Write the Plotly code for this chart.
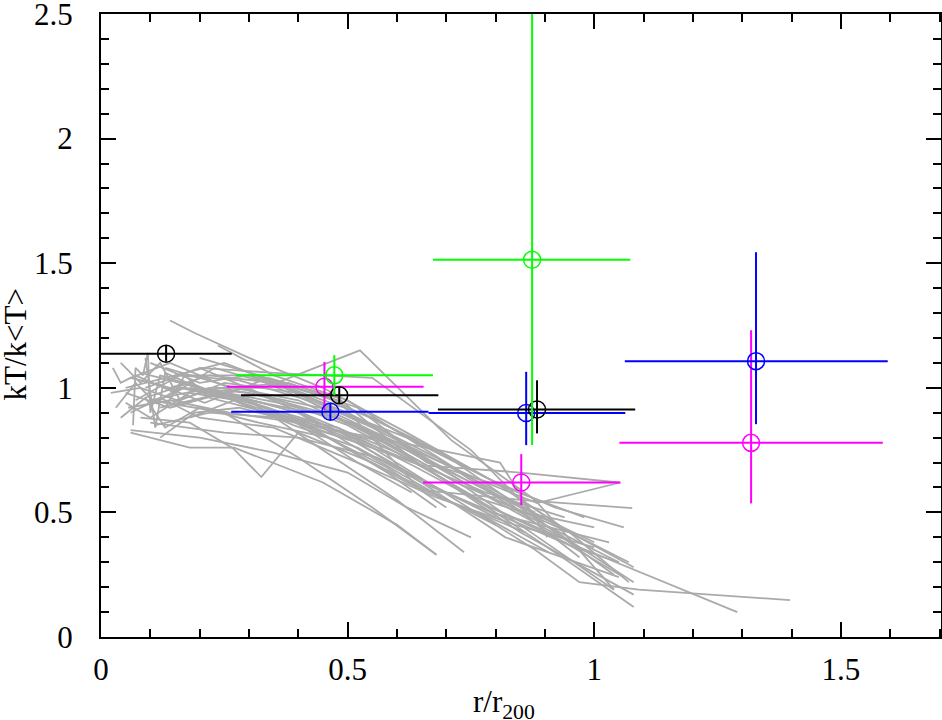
import plotly.graph_objects as go

# ---------------- data ----------------
# Coloured binned measurements: centre, x-bin edges, y-error limits
black_x = [0.132, 0.483, 0.884]
black_y = [1.137, 0.970, 0.913]
black_xlo = [0.0, 0.284, 0.683]
black_xhi = [0.265, 0.684, 1.083]
black_ylo = [1.105, 0.937, 0.817]
black_yhi = [1.170, 1.003, 1.030]

blue_x = [0.465, 0.862, 1.328]
blue_y = [0.904, 0.899, 1.107]
blue_xlo = [0.264, 0.664, 1.062]
blue_xhi = [0.664, 1.063, 1.595]
blue_ylo = [0.870, 0.770, 0.854]
blue_yhi = [0.938, 1.064, 1.544]

green_x = [0.473, 0.874]
green_y = [1.050, 1.514]
green_xlo = [0.274, 0.673]
green_xhi = [0.673, 1.073]
green_ylo = [0.970, 0.770]
green_yhi = [1.131, 2.700]

magenta_x = [0.453, 0.852, 1.318]
magenta_y = [1.004, 0.620, 0.779]
magenta_xlo = [0.255, 0.653, 1.051]
magenta_xhi = [0.654, 1.053, 1.585]
magenta_ylo = [0.910, 0.529, 0.536]
magenta_yhi = [1.104, 0.734, 1.231]

# Grey individual-cluster profiles (x = r/r200, y = kT/<kT>)
profile_x = [
    [0.14, 0.19, 0.30, 0.45, 0.62, 0.80, 0.95, 1.07],
    [0.024, 0.04, 0.06, 0.10, 0.14, 0.22, 0.35, 0.50, 0.68, 0.85, 1.05],
    [0.10, 0.22, 0.33, 0.525, 0.71, 0.88, 1.04],
    [0.08, 0.18, 0.268, 0.325, 0.40, 0.55, 0.70, 0.86],
    [0.06, 0.18, 0.27, 0.45, 0.60, 0.68],
    [0.04, 0.08, 0.12, 0.16, 0.25, 0.40, 0.58, 0.75, 0.97, 1.29],
    [0.05, 0.15, 0.30, 0.48, 0.647, 0.85, 1.077],
    [0.12, 0.25, 0.40, 0.55, 0.72, 0.88, 0.97, 1.09, 1.397],
    [0.07, 0.16, 0.28, 0.42, 0.60, 0.80, 0.95, 1.08],
    [0.09, 0.20, 0.32, 0.50, 0.68, 0.85, 1.08],
    [0.15, 0.25, 0.38, 0.55, 0.72, 0.90, 1.08],
    [0.11, 0.22, 0.36, 0.52, 0.65, 0.82, 1.05],
    [0.13, 0.27, 0.40, 0.56, 0.74, 0.90, 1.04],
    [0.05, 0.14, 0.25, 0.40, 0.55, 0.70, 0.80],
    [0.10, 0.20, 0.30, 0.45, 0.60, 0.75, 0.88],
    [0.16, 0.28, 0.42, 0.58, 0.68],
    [0.08, 0.17, 0.30, 0.48, 0.62, 0.80, 0.95],
    [0.06, 0.12, 0.20, 0.35, 0.52, 0.68, 0.84, 1.00],
    [0.18, 0.30, 0.45, 0.60, 0.78, 0.884, 1.053],
    [0.04, 0.09, 0.13, 0.20, 0.32, 0.46, 0.62, 0.78, 0.907],
    [0.09, 0.18, 0.33, 0.50, 0.66, 0.809, 0.905],
    [0.07, 0.15, 0.23, 0.37, 0.55, 0.75, 0.95, 1.07],
    [0.20, 0.32, 0.47, 0.63, 0.80, 0.95, 1.08],
    [0.11, 0.21, 0.34, 0.48, 0.64, 0.79, 0.94, 1.06],
    [0.02, 0.08, 0.17, 0.29, 0.43, 0.60, 0.76, 0.92],
    [0.12, 0.19, 0.28, 0.42, 0.58, 0.72, 0.86, 1.00],
    [0.06, 0.14, 0.26, 0.38, 0.52, 0.66, 0.82, 0.98],
    [0.10, 0.25, 0.40, 0.56, 0.70, 0.84, 0.96, 1.05],
    [0.15, 0.24, 0.35, 0.49, 0.62, 0.78, 0.92, 1.06],
    [0.05, 0.10, 0.18, 0.31, 0.44, 0.58, 0.70],
    [0.13, 0.17, 0.22, 0.34, 0.48, 0.64, 0.79, 0.93],
    [0.08, 0.20, 0.36, 0.51, 0.67, 0.82, 0.97],
    [0.18, 0.27, 0.39, 0.52, 0.65, 0.79, 0.91, 1.03],
    [0.03, 0.07, 0.11, 0.16, 0.28, 0.44, 0.61, 0.78, 0.94],
    [0.065, 0.07, 0.085, 0.095, 0.10, 0.12, 0.20, 0.34, 0.50, 0.66, 0.80],
    [0.237, 0.35, 0.50, 0.66, 0.82, 1.00],
    [0.055, 0.14, 0.26, 0.40, 0.52, 0.647, 0.85, 1.05],
    [0.10, 0.25, 0.40, 0.55, 0.68],
    [0.30, 0.45, 0.60, 0.736],
    [0.06, 0.20, 0.35, 0.50, 0.62, 0.75],
    [0.20, 0.35, 0.55, 0.75, 0.90, 1.04],
    [0.09, 0.11, 0.13, 0.22, 0.38, 0.52, 0.63],
]
profile_y = [
    [1.27, 1.22, 1.12, 1.00, 0.82, 0.62, 0.42, 0.22],
    [1.08, 1.02, 1.04, 1.02, 1.00, 1.05, 1.02, 0.90, 0.72, 0.50, 0.30],
    [0.95, 1.00, 1.00, 1.15, 0.79, 0.55, 0.19],
    [0.88, 0.86, 0.757, 0.642, 0.82, 0.70, 0.55, 0.42],
    [0.82, 0.76, 0.76, 0.62, 0.45, 0.33],
    [1.10, 1.02, 1.10, 0.95, 1.02, 0.98, 0.82, 0.60, 0.36, 0.10],
    [1.00, 1.05, 1.05, 0.95, 0.59, 0.55, 0.517],
    [0.92, 0.98, 0.90, 0.76, 0.55, 0.35, 0.22, 0.19, 0.148],
    [0.95, 1.05, 1.03, 0.95, 0.75, 0.50, 0.30, 0.12],
    [1.00, 1.08, 0.98, 0.85, 0.65, 0.42, 0.17],
    [1.05, 1.10, 1.00, 0.88, 0.70, 0.45, 0.22],
    [0.85, 0.90, 0.88, 0.78, 0.62, 0.40, 0.24],
    [1.08, 1.00, 0.95, 0.80, 0.60, 0.38, 0.19],
    [0.98, 0.92, 0.98, 0.90, 0.72, 0.55, 0.45],
    [1.10, 1.02, 1.05, 0.92, 0.78, 0.62, 0.50],
    [1.02, 0.96, 0.85, 0.66, 0.52],
    [0.92, 1.00, 0.95, 0.88, 0.75, 0.55, 0.42],
    [0.90, 0.96, 0.88, 0.84, 0.70, 0.56, 0.45, 0.36],
    [1.00, 0.98, 0.90, 0.78, 0.62, 0.537, 0.62],
    [0.88, 0.96, 0.84, 0.92, 0.86, 0.80, 0.62, 0.48, 0.34],
    [0.96, 1.02, 0.90, 0.82, 0.76, 0.70, 0.40],
    [1.05, 0.98, 1.08, 1.00, 0.84, 0.64, 0.42, 0.30],
    [1.12, 1.05, 0.95, 0.80, 0.62, 0.42, 0.28],
    [1.02, 0.94, 1.04, 0.96, 0.70, 0.52, 0.38, 0.24],
    [0.98, 1.00, 0.94, 1.00, 0.88, 0.74, 0.56, 0.46],
    [0.80, 0.90, 0.92, 0.85, 0.78, 0.62, 0.50, 0.44],
    [1.04, 1.10, 1.00, 1.02, 0.92, 0.70, 0.60, 0.48],
    [0.86, 0.82, 0.80, 0.72, 0.58, 0.46, 0.36, 0.30],
    [0.95, 1.00, 0.96, 0.90, 0.80, 0.64, 0.52, 0.44],
    [0.94, 0.88, 0.98, 0.94, 0.82, 0.68, 0.52],
    [0.92, 1.05, 0.96, 0.90, 0.84, 0.68, 0.52, 0.40],
    [1.06, 1.00, 0.94, 0.86, 0.70, 0.55, 0.32],
    [0.88, 0.95, 0.85, 0.76, 0.62, 0.50, 0.44, 0.38],
    [0.92, 1.02, 0.94, 1.00, 0.95, 0.86, 0.72, 0.58, 0.48],
    [0.85, 1.08, 1.05, 1.14, 0.90, 1.05, 1.00, 0.92, 0.80, 0.62, 0.48],
    [1.17, 1.05, 0.95, 0.75, 0.55, 0.38],
    [0.92, 0.95, 0.90, 0.86, 0.78, 0.69, 0.66, 0.62],
    [0.95, 0.90, 0.72, 0.52, 0.33],
    [0.95, 0.75, 0.55, 0.34],
    [0.83, 0.80, 0.74, 0.66, 0.52, 0.40],
    [1.08, 1.06, 1.04, 0.75, 0.45, 0.25],
    [1.12, 0.84, 1.06, 0.98, 0.88, 0.70, 0.58],
]

x_tickvals = [0, 0.5, 1, 1.5]
x_ticktext = ["0", "0.5", "1", "1.5"]
y_tickvals = [0, 0.5, 1, 1.5, 2, 2.5]
y_ticktext = ["0", "0.5", "1", "1.5", "2", "2.5"]

# ---------------- figure ----------------
FONT = "Liberation Serif"
FS = 31

fig = go.Figure()

for px, py in zip(profile_x, profile_y):
    fig.add_trace(go.Scatter(
        x=px, y=py, mode="lines",
        line=dict(color="#aaaaaa", width=1.8),
        hoverinfo="skip", showlegend=False))


def add_points(xs, ys, xlo, xhi, ylo, yhi, color):
    fig.add_trace(go.Scatter(
        x=xs, y=ys, mode="markers",
        marker=dict(symbol="circle-open", size=17, color=color,
                    line=dict(width=1.5, color=color)),
        error_x=dict(type="data", symmetric=False,
                     array=[h - x for h, x in zip(xhi, xs)],
                     arrayminus=[x - l for l, x in zip(xlo, xs)],
                     color=color, thickness=2, width=0),
        error_y=dict(type="data", symmetric=False,
                     array=[h - y for h, y in zip(yhi, ys)],
                     arrayminus=[y - l for l, y in zip(ylo, ys)],
                     color=color, thickness=2, width=0),
        showlegend=False))


add_points(magenta_x, magenta_y, magenta_xlo, magenta_xhi, magenta_ylo, magenta_yhi, "#ff00ff")
add_points(blue_x, blue_y, blue_xlo, blue_xhi, blue_ylo, blue_yhi, "#0000ff")
add_points(black_x, black_y, black_xlo, black_xhi, black_ylo, black_yhi, "#000000")
add_points(green_x, green_y, green_xlo, green_xhi, green_ylo, green_yhi, "#00ff00")

axis_common = dict(
    showgrid=False, zeroline=False, showline=True, linecolor="black",
    linewidth=2, mirror="allticks", ticks="inside", ticklen=15,
    tickwidth=2, tickcolor="black", automargin=False,
    ticklabeloverflow="allow",
    tickfont=dict(family=FONT, size=FS, color="black"),
)

fig.update_xaxes(range=[0, 1.703], tickmode="array", tickvals=x_tickvals,
                 ticktext=x_ticktext, ticklabelstandoff=4,
                 minor=dict(dtick=0.1, tick0=0, ticks="inside", ticklen=8,
                            tickwidth=2, tickcolor="black"),
                 **axis_common)
fig.update_yaxes(range=[0, 2.5], tickmode="array", tickvals=y_tickvals,
                 ticktext=y_ticktext, ticklabelstandoff=20,
                 minor=dict(dtick=0.1, tick0=0, ticks="inside", ticklen=8,
                            tickwidth=2, tickcolor="black"),
                 **axis_common)

fig.add_annotation(text="r/r<sub>200</sub>", xref="paper", yref="paper",
                   x=0.48, y=-0.107, xanchor="center", yanchor="middle",
                   showarrow=False, font=dict(family=FONT, size=FS, color="black"))
fig.add_annotation(text="kT/k&lt;T&gt;", xref="paper", yref="paper",
                   x=-0.102, y=0.47, xanchor="center", yanchor="middle",
                   textangle=-90, showarrow=False,
                   font=dict(family=FONT, size=FS, color="black"))

fig.update_layout(
    width=942, height=720,
    margin=dict(l=101, r=1, t=14, b=83),
    paper_bgcolor="white", plot_bgcolor="white",
    font=dict(family=FONT, size=FS, color="black"),
)

fig.write_html("out.html",
               config={"displayModeBar": False},
               post_script="document.body.style.margin='0';"
                           "document.body.style.overflow='hidden';")
